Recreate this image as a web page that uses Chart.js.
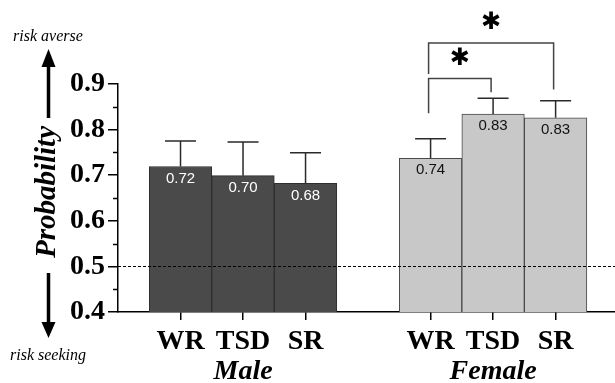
<!DOCTYPE html>
<html>
<head>
<meta charset="utf-8">
<script src="https://cdn.jsdelivr.net/npm/chart.js@4.4.0/dist/chart.umd.min.js"></script>
<style>
  html, body { margin: 0; padding: 0; background: #fff; }
  #wrap { width: 615px; height: 383px; }
</style>
</head>
<body>
<div id="wrap"><canvas id="chart"></canvas></div>
<script>
const conditions = ['WR', 'TSD', 'SR'];
const groups = ['Male', 'Female'];
const malePos = [1, 2, 3];
const femalePos = [5, 6, 7];
const groupPos = [2, 6];
const maleMean = [0.719, 0.699, 0.682];
const maleUpper = [0.775, 0.773, 0.749];
const femaleMean = [0.737, 0.834, 0.826];
const femaleUpper = [0.780, 0.869, 0.863];
const yTicks = [0.4, 0.5, 0.6, 0.7, 0.8, 0.9];
const yMinorTicks = [0.45, 0.55, 0.65, 0.75, 0.85];
const chanceLevel = 0.5;
// significance brackets (x = bar position, y = probability units)
const brackets = [
  { from: 5, to: 7, top: 0.99, leftEnd: 0.922, rightEnd: 0.888 },
  { from: 5, to: 6, top: 0.912, leftEnd: 0.836, rightEnd: 0.882 }
];

const serif = "'Liberation Serif', 'Times New Roman', serif";
const sans = "'Liberation Sans', Arial, sans-serif";

const annotate = {
  id: 'annotate',
  afterDatasetsDraw(chart) {
    const { ctx, chartArea, scales: { x, y } } = chart;
    ctx.save();

    // chance level
    const yc = Math.round(y.getPixelForValue(chanceLevel)) + 0.5;
    ctx.strokeStyle = '#000';
    ctx.lineWidth = 1;
    ctx.setLineDash([3, 2]);
    ctx.beginPath();
    ctx.moveTo(chartArea.left, yc);
    ctx.lineTo(chartArea.right, yc);
    ctx.stroke();
    ctx.setLineDash([]);

    // error bars and value labels
    chart.data.datasets.forEach((ds, di) => {
      const meta = chart.getDatasetMeta(di);
      meta.data.forEach((bar, i) => {
        const top = y.getPixelForValue(ds.upper[i]);
        ctx.strokeStyle = '#2a2a2a';
        ctx.lineWidth = 1.5;
        ctx.beginPath();
        ctx.moveTo(bar.x, bar.y);
        ctx.lineTo(bar.x, top);
        ctx.moveTo(bar.x - 15.5, top);
        ctx.lineTo(bar.x + 15.5, top);
        ctx.stroke();

        ctx.fillStyle = ds.labelColor;
        ctx.font = '15px ' + sans;
        ctx.textAlign = 'center';
        ctx.textBaseline = 'middle';
        ctx.fillText(ds.data[i].y.toFixed(2), bar.x, bar.y + 12);
      });
    });

    // significance brackets
    brackets.forEach(b => {
      const x1 = x.getPixelForValue(b.from) - 2;
      const x2 = x.getPixelForValue(b.to) - 2;
      const yt = y.getPixelForValue(b.top);
      ctx.strokeStyle = '#444';
      ctx.lineWidth = 1.5;
      ctx.beginPath();
      ctx.moveTo(x1, y.getPixelForValue(b.leftEnd));
      ctx.lineTo(x1, yt);
      ctx.lineTo(x2, yt);
      ctx.lineTo(x2, y.getPixelForValue(b.rightEnd));
      ctx.stroke();

      ctx.fillStyle = '#000';
      ctx.font = 'bold 24px "DejaVu Sans", sans-serif';
      ctx.textAlign = 'center';
      ctx.textBaseline = 'middle';
      ctx.fillText('\u2731', (x1 + x2) / 2, yt - 20);
    });
    ctx.restore();
  },
  afterDraw(chart) {
    const { ctx, scales: { y } } = chart;
    const axisX = chart.chartArea.left;
    ctx.save();

    // minor ticks
    ctx.strokeStyle = '#000';
    ctx.lineWidth = 1.5;
    yMinorTicks.forEach(v => {
      const py = Math.round(y.getPixelForValue(v)) + 0.5;
      ctx.beginPath();
      ctx.moveTo(axisX - 5, py);
      ctx.lineTo(axisX, py);
      ctx.stroke();
    });

    // y title
    ctx.fillStyle = '#000';
    ctx.translate(48, 192);
    ctx.rotate(-Math.PI / 2);
    ctx.font = 'italic bold 29px ' + serif;
    ctx.textAlign = 'center';
    ctx.textBaseline = 'middle';
    ctx.fillText('Probability', 0, 0);
    ctx.setTransform(1, 0, 0, 1, 0, 0);

    // arrows
    const ax = 48.5;
    ctx.fillRect(ax - 1.75, 66, 3.5, 52);
    ctx.beginPath();
    ctx.moveTo(ax, 49);
    ctx.lineTo(ax - 7, 67);
    ctx.lineTo(ax + 7, 67);
    ctx.closePath();
    ctx.fill();

    ctx.fillRect(ax - 1.75, 273, 3.5, 51);
    ctx.beginPath();
    ctx.moveTo(ax, 338);
    ctx.lineTo(ax - 7, 322);
    ctx.lineTo(ax + 7, 322);
    ctx.closePath();
    ctx.fill();

    ctx.font = 'italic 16px ' + serif;
    ctx.textAlign = 'center';
    ctx.textBaseline = 'middle';
    ctx.fillText('risk averse', 48, 37);
    ctx.fillText('risk seeking', 48, 356);
    ctx.restore();
  }
};

new Chart(document.getElementById('chart'), {
  type: 'bar',
  data: {
    datasets: [
      {
        label: groups[0],
        data: malePos.map((p, i) => ({ x: p, y: maleMean[i] })),
        upper: maleUpper,
        labelColor: '#fff',
        backgroundColor: '#4a4a4a',
        borderColor: '#2e2e2e',
        borderWidth: 1
      },
      {
        label: groups[1],
        data: femalePos.map((p, i) => ({ x: p, y: femaleMean[i] })),
        upper: femaleUpper,
        labelColor: '#111',
        backgroundColor: '#c8c8c8',
        borderColor: '#4a4a4a',
        borderWidth: 1
      }
    ]
  },
  options: {
    responsive: true,
    maintainAspectRatio: false,
    animation: false,
    layout: { padding: { top: 84, right: 0, left: 0, bottom: 0 } },
    datasets: {
      bar: { grouped: false, categoryPercentage: 1, barPercentage: 1 }
    },
    plugins: { legend: { display: false }, tooltip: { enabled: false } },
    scales: {
      x: {
        type: 'linear',
        offset: false,
        min: 0,
        max: 7.95,
        afterBuildTicks: s => { s.ticks = malePos.concat(femalePos).map(v => ({ value: v })); },
        afterFit: s => { s.height = 40; },
        ticks: {
          color: '#000',
          padding: 5,
          font: { family: serif, size: 28, weight: 'bold' },
          callback: v => conditions[(v - 1) % 4]
        },
        grid: { offset: false, drawOnChartArea: false, tickLength: 8, color: '#000', lineWidth: 1.5 },
        border: { color: '#000', width: 1.5 }
      },
      x2: {
        type: 'linear',
        position: 'bottom',
        offset: false,
        min: 0,
        max: 7.95,
        afterBuildTicks: s => { s.ticks = groupPos.map(v => ({ value: v })); },
        afterFit: s => { s.height = 31; },
        ticks: {
          color: '#000',
          padding: 3,
          font: { family: serif, size: 28, weight: 'bold', style: 'italic' },
          callback: v => groups[groupPos.indexOf(v)]
        },
        grid: { display: false, drawTicks: false },
        border: { display: false }
      },
      y: {
        min: 0.4,
        max: 0.9,
        afterBuildTicks: s => { s.ticks = yTicks.map(v => ({ value: v })); },
        afterFit: s => { s.width = 118; },
        ticks: {
          color: '#000',
          padding: 3,
          font: { family: serif, size: 28, weight: 'bold' },
          callback: v => v.toFixed(1)
        },
        grid: { drawOnChartArea: false, tickLength: 10, color: '#000', lineWidth: 1.5 },
        border: { color: '#000', width: 1.5 }
      }
    }
  },
  plugins: [annotate]
});
</script>
</body>
</html>
